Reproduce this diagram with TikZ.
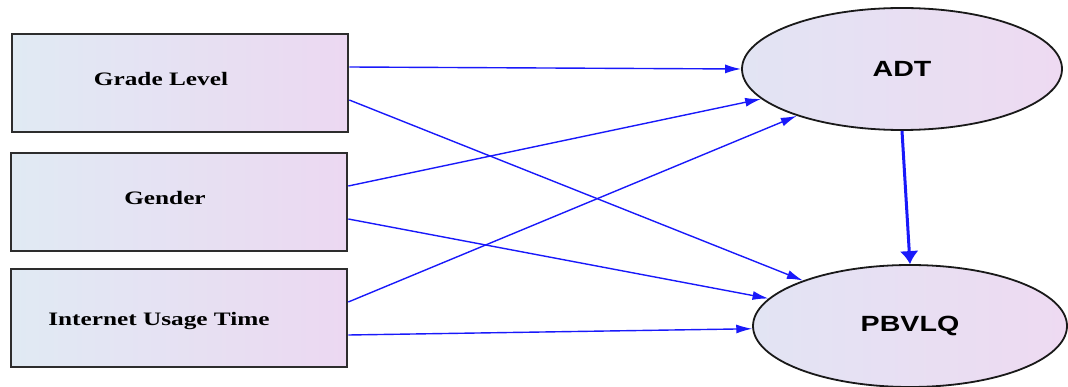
\documentclass[tikz,border=0pt]{standalone}
\usepackage{fontspec}
\setmainfont{Liberation Serif}
\newfontfamily\ellfont{Liberation Sans}
\usetikzlibrary{arrows.meta,shapes.geometric}
\definecolor{arrblue}{RGB}{25,25,250}
\definecolor{boxL}{RGB}{224,234,243}
\definecolor{boxR}{RGB}{236,216,242}
\definecolor{ellL}{RGB}{226,228,243}
\definecolor{ellR}{RGB}{238,218,242}
\definecolor{edge}{RGB}{45,45,45}
\tikzset{
  varbox/.style={draw=edge, line width=2.6pt, left color=boxL, right color=boxR, minimum width=336pt, minimum height=98pt, inner sep=0pt},
  boxtext/.style={font=\fontsize{19}{22}\selectfont\bfseries, inner sep=0pt},
  latent/.style={ellipse, draw=black!90, line width=1.8pt, left color=ellL, right color=ellR, minimum width=320pt, minimum height=122pt, inner sep=0pt, font=\ellfont\fontsize{22}{26}\selectfont\bfseries},
  path/.style={draw=arrblue, line width=1.4pt, -{Latex[length=16pt,width=9pt]}},
  mainpath/.style={draw=arrblue, line width=3pt, -{Latex[length=13pt,width=19pt]}}
}
\begin{document}
\begin{tikzpicture}[x=1pt,y=-1pt]
\useasboundingbox (0,0) rectangle (1068,387);
\node[varbox, label={[boxtext, xshift=-19pt, yshift=4pt]center:\scalebox{1.33}[1]{Grade Level}}] (gl) at (180,83) {};
\node[varbox, label={[boxtext, xshift=-14pt, yshift=4pt]center:\scalebox{1.33}[1]{Gender}}] (gen) at (179,202) {};
\node[varbox, label={[boxtext, xshift=-20pt, yshift=-3pt]center:\scalebox{1.33}[1]{Internet Usage Time}}] (iut) at (179,318) {};
\node[latent] (adt) at (902,69) {\scalebox{1.3}[1]{ADT}};
\node[latent, minimum width=314pt] (pb) at (910,326) {\scalebox{1.3}[1]{PBVLQ}};
\draw[path] ([yshift=16pt]gl.east) -- (adt.180);
\draw[path] ([yshift=-17pt]gl.east) -- (pb.157);
\draw[path] ([yshift=16pt]gen.east) -- (adt.192);
\draw[path] ([yshift=-17pt]gen.east) -- (pb.169);
\draw[path] ([yshift=16pt]iut.east) -- (adt.204);
\draw[path] ([yshift=-17pt]iut.east) -- (pb.181);
\draw[mainpath] (adt.south) -- (pb.north);
\end{tikzpicture}
\end{document}
